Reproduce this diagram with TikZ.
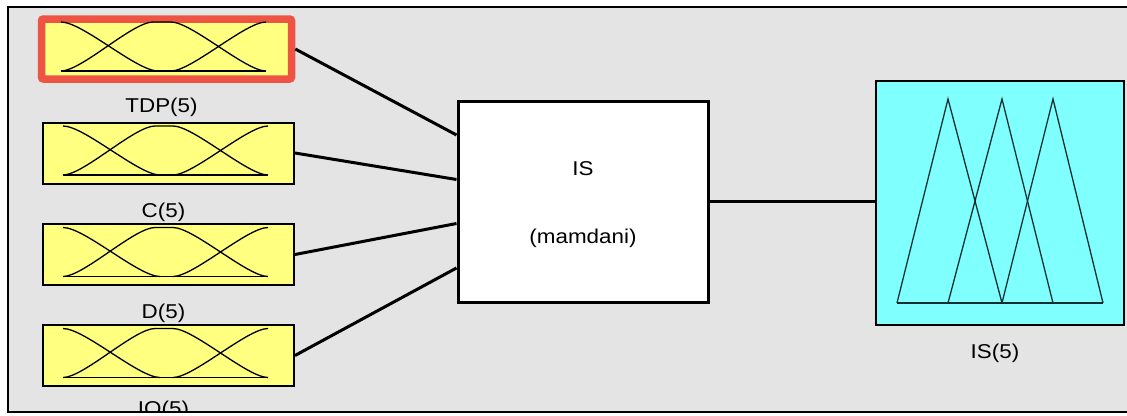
\documentclass[tikz,border=0pt]{standalone}
\usepackage{fontspec}
\setmainfont[FakeStretch=1.12]{Liberation Sans}
\usetikzlibrary{calc,positioning}
\definecolor{panelgray}{RGB}{228,228,228}
\definecolor{mfyellow}{RGB}{255,255,128}
\definecolor{outcyan}{RGB}{128,255,255}
\definecolor{selred}{RGB}{238,84,68}
\definecolor{mfteal}{RGB}{16,48,48}
% membership curves inside an input box, relative to its centre
\def\inputmfs(#1){
	\begin{scope}[shift={(#1.center)}]
		\draw[mf] (-105.5,22) -- (99.5,22);
		\draw[mf] (-105.5,-27) .. controls (-84,-27) and (-30,22) .. (-8.5,22);
		\draw[mf] (-105.5,22) .. controls (-85,22) and (-34,-27) .. (-13.5,-27) -- (4.5,-27)
			.. controls (25,-27) and (79,22) .. (99.5,22);
		\draw[mf] (4.5,22) .. controls (25,22) and (79,-27) .. (99.5,-27);
	\end{scope}}

\begin{document}
\begin{tikzpicture}[x=1pt,y=-1pt,
	inbox/.style={draw=black, line width=2pt, fill=mfyellow, minimum width=251pt, minimum height=61pt, inner sep=0pt},
	selbox/.style={inbox, draw=selred, line width=7.5pt, rounded corners=2pt, minimum width=250pt, minimum height=60pt},
	sysbox/.style={draw=black, line width=3pt, fill=white, minimum width=250pt, minimum height=201pt, inner sep=0pt},
	outbox/.style={draw=black, line width=2pt, fill=outcyan, minimum width=248pt, minimum height=244pt, inner sep=0pt},
	lbl/.style={font=\fontsize{20}{24}\selectfont, inner sep=0pt},
	mf/.style={line width=1.3pt, black},
	wire/.style={line width=3pt}]
			%%%%% START %%%%%
			\useasboundingbox (0,0) rectangle (1127,415);
			\fill[white] (0,0) rectangle (1127,415);
			\fill[panelgray] (8,7) rectangle (1127,412);
			
			% inputs
			\node[selbox] (tdp) at (166.5,49) {};
			\node[inbox] (c) at (168.5,153) {};
			\node[inbox] (d) at (168.5,254.5) {};
			\node[inbox] (io) at (168.5,355.5) {};
			\inputmfs(tdp)
			\inputmfs(c)
			\inputmfs(d)
			\inputmfs(io)
			
			\begin{scope}
				\clip (8,7) rectangle (1127,411);
				\foreach \in/\txt/\dy in {tdp/TDP(5)/25, c/C(5)/27.5, d/D(5)/27.5, io/IO(5)/23.5}
					\node[lbl] (\in lbl) at ($(\in.south)+(-5,\dy)$) {\txt};
			\end{scope}
			
			% rule block
			\node[sysbox] (sys) at (583,201.5) {};
			\node[lbl, align=center] (systxt) at ($(sys.center)+(0,3)$) {IS\\[44pt](mamdani)};
			
			\foreach \k/\dy in {1/-66.5, 2/-22, 3/22, 4/66.5}
				\coordinate (sysin\k) at ($(sys.west)+(0,\dy)$);
			\draw[wire] (tdp.east) -- (sysin1);
			\draw[wire] (c.east) -- (sysin2);
			\draw[wire] (d.east) -- (sysin3);
			\draw[wire] (io.east) -- (sysin4);
			
			% output
			\node[outbox] (out) at (1000,203) {};
			\node[lbl] (outlbl) at ($(out.south)+(-5,27)$) {IS(5)};
			\draw[wire] (sys.east) -- (sys.east -| out.west);
			
			\begin{scope}[shift={(out.center)}]
				\draw[line width=1.3pt, mfteal] (-103,100) -- (103,100);
				\draw[line width=1.3pt, mfteal] (-103,100) -- (-52,-104) -- (2,100);
				\draw[line width=1.3pt, mfteal] (-52,100) -- (2,-104) -- (53,100);
				\draw[line width=1.3pt, mfteal] (2,100) -- (53,-104) -- (103,100);
			\end{scope}
			
			% panel frame
			\draw[line width=2.5pt] (1127,7) -- (8,7) -- (8,412) -- (1127,412);
			%%%%% END %%%%%
\end{tikzpicture}
\end{document}
